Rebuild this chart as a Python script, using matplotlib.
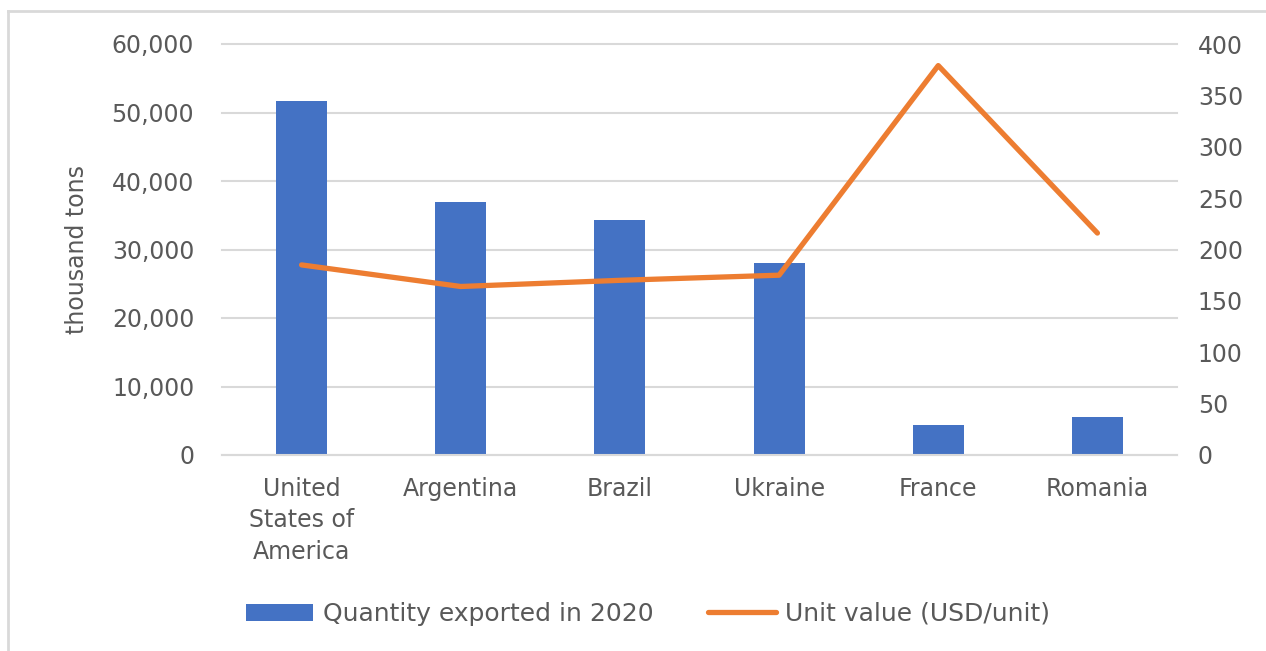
import matplotlib
matplotlib.use("Agg")
import matplotlib.pyplot as plt
from matplotlib.lines import Line2D
from matplotlib.patches import Patch
from matplotlib.ticker import FuncFormatter, MultipleLocator

categories = ["United\nStates of\nAmerica", "Argentina", "Brazil", "Ukraine", "France", "Romania"]
quantity = [51700, 36900, 34300, 28000, 4400, 5600]
unit_value = [185, 164, 170, 175, 379, 216]

plt.rcParams['font.family'] = ['DejaVu Sans']
gray = '#595959'
blue = '#4472C4'
orange = '#ED7D31'

fig = plt.figure(figsize=(12.66, 6.51), dpi=100)
# partial outer frame (top and left edges only, as in the cropped original)
fig.add_artist(Line2D([8/1266, 1.0], [1-11/651, 1-11/651], transform=fig.transFigure,
                      color='#D9D9D9', linewidth=2))
fig.add_artist(Line2D([8/1266, 8/1266], [0.0, 1-11/651], transform=fig.transFigure,
                      color='#D9D9D9', linewidth=2))

ax = fig.add_axes([222/1266, 1-455/651, (1177-222)/1266, (455-44)/651])
x = list(range(len(categories)))
ax.bar(x, quantity, width=0.32, color=blue, zorder=2)
ax.set_xlim(-0.5, len(categories) - 0.5)
ax.set_ylim(0, 60000)
ax.yaxis.set_major_locator(MultipleLocator(10000))
ax.yaxis.set_major_formatter(FuncFormatter(lambda v, p: f"{int(v):,}"))
ax.grid(axis='y', color='#D9D9D9', linewidth=1.5, zorder=0)
ax.set_axisbelow(True)
for gl in ax.yaxis.get_gridlines():
    gl.set_clip_on(False)
for s in ['top', 'right', 'left']:
    ax.spines[s].set_visible(False)
ax.spines['bottom'].set_color('#D9D9D9')
ax.spines['bottom'].set_linewidth(1.5)
ax.tick_params(axis='both', length=0, labelsize=17, colors=gray)
ax.tick_params(axis='x', pad=16)
ax.tick_params(axis='y', pad=20)
ax.set_xticks(x)
ax.set_xticklabels(categories, linespacing=1.38, va='top')
ax.set_ylabel("thousand tons", fontsize=17, color=gray, labelpad=16)

ax2 = ax.twinx()
ax2.plot(x, unit_value, color=orange, linewidth=3.8, solid_capstyle='round', solid_joinstyle='round', zorder=3)
ax2.set_ylim(0, 400)
ax2.yaxis.set_major_locator(MultipleLocator(50))
for s in ['top', 'right', 'left', 'bottom']:
    ax2.spines[s].set_visible(False)
ax2.tick_params(axis='y', length=0, labelsize=17, colors=gray, pad=15)

handles = [Patch(facecolor=blue, edgecolor='none'),
           Line2D([0], [0], color=orange, linewidth=3.8, solid_capstyle='round')]
fig.legend(handles, ["Quantity exported in 2020", "Unit value (USD/unit)"],
           loc='center', bbox_to_anchor=(648/1266, 1-614/651), ncol=2, frameon=False,
           fontsize=18, labelcolor=gray, handlelength=2.7, handleheight=0.65,
           columnspacing=2.2, handletextpad=0.38)

fig.savefig("out.png", dpi=100, facecolor='white')
